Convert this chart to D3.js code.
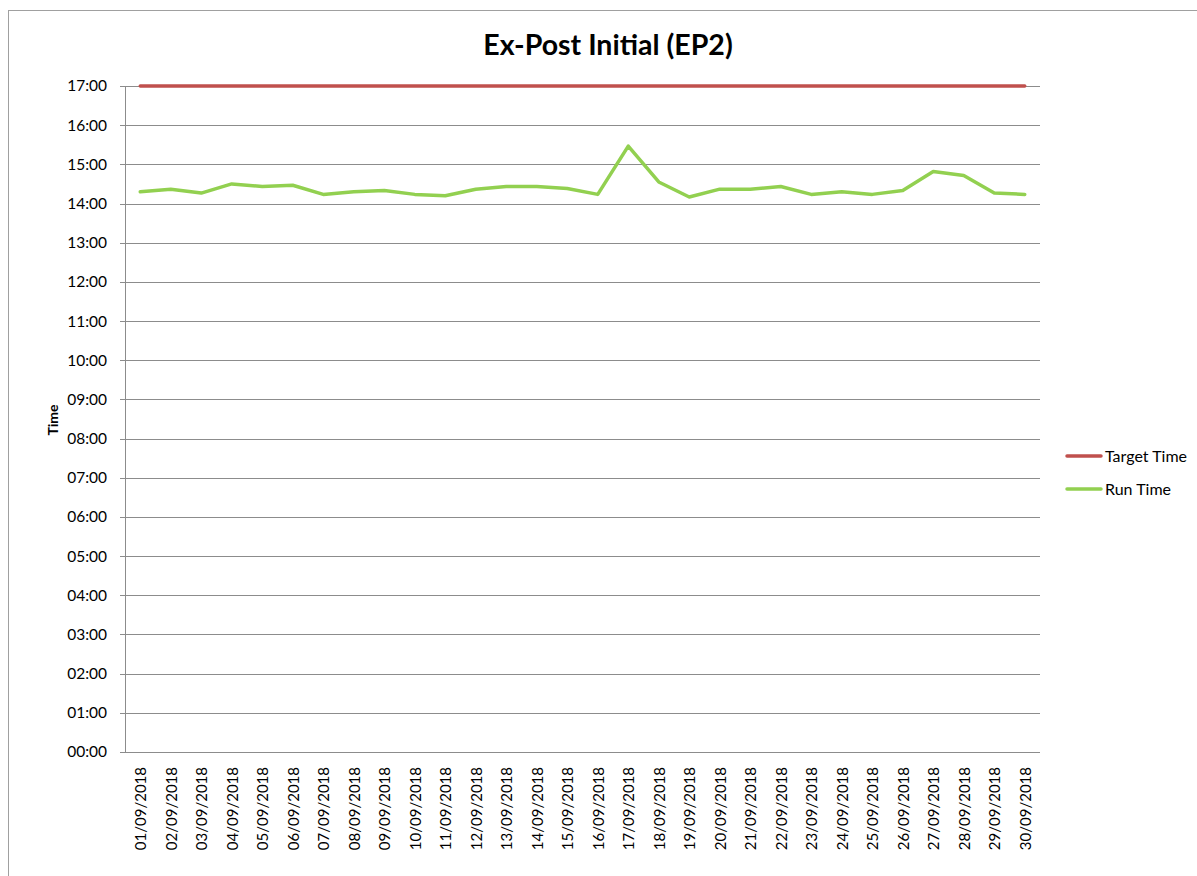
<!DOCTYPE html>
<html>
<head>
<meta charset="utf-8">
<script src="https://cdn.jsdelivr.net/npm/d3@7"></script>
<style>
  body { margin: 0; background: #fff; }
  svg { display: block; font-family: Lato, "Open Sans", sans-serif; }
</style>
</head>
<body>
<svg width="1197" height="876"></svg>
<script>
var days = ["01/09/2018","02/09/2018","03/09/2018","04/09/2018","05/09/2018","06/09/2018",
  "07/09/2018","08/09/2018","09/09/2018","10/09/2018","11/09/2018","12/09/2018",
  "13/09/2018","14/09/2018","15/09/2018","16/09/2018","17/09/2018","18/09/2018",
  "19/09/2018","20/09/2018","21/09/2018","22/09/2018","23/09/2018","24/09/2018",
  "25/09/2018","26/09/2018","27/09/2018","28/09/2018","29/09/2018","30/09/2018"];

var targetTime = ["17:00","17:00","17:00","17:00","17:00","17:00","17:00","17:00","17:00","17:00",
  "17:00","17:00","17:00","17:00","17:00","17:00","17:00","17:00","17:00","17:00",
  "17:00","17:00","17:00","17:00","17:00","17:00","17:00","17:00","17:00","17:00"];

var runTime = ["14:18","14:22","14:16","14:30","14:26","14:28","14:14","14:18","14:20","14:14",
  "14:12","14:22","14:26","14:26","14:23","14:14","15:28","14:33","14:10","14:22",
  "14:22","14:26","14:14","14:18","14:14","14:20","14:49","14:43","14:16","14:14"];

var yTicks = ["00:00","01:00","02:00","03:00","04:00","05:00","06:00","07:00","08:00",
  "09:00","10:00","11:00","12:00","13:00","14:00","15:00","16:00","17:00"];

function toHours(s) {
  var p = s.split(":");
  return +p[0] + (+p[1]) / 60;
}

var svg = d3.select("svg"),
    margin = {top: 86, left: 125},
    width = 915,
    height = 666;

// chart frame
svg.append("rect").attr("x", 8.5).attr("y", 10.5).attr("width", 1300).attr("height", 1000)
  .attr("fill", "none").attr("stroke", "#a0a0a0").attr("stroke-width", 1);

svg.append("text").attr("x", 608).attr("y", 55).attr("text-anchor", "middle")
  .attr("font-size", 28.5).attr("font-weight", "bold").attr("fill", "#000")
  .text("Ex-Post Initial (EP2)");

var g = svg.append("g").attr("transform", "translate(" + margin.left + "," + margin.top + ")");

var x = d3.scalePoint().domain(days).range([0, width]).padding(0.5);
var y = d3.scaleLinear().domain([0, 17]).range([height, 0]);

// gridlines
g.append("g").attr("class", "grid")
  .call(d3.axisLeft(y).tickValues(yTicks.map(toHours)).tickSize(-width).tickFormat(""))
  .call(function(s) {
    s.select(".domain").remove();
    s.selectAll("line").attr("stroke", "#8c8c8c").attr("shape-rendering", "crispEdges");
  });

// y axis
g.append("g")
  .call(d3.axisLeft(y).tickValues(yTicks.map(toHours)).tickSize(5).tickPadding(13)
    .tickFormat(function(d, i) { return yTicks[i]; }))
  .call(function(s) {
    s.select(".domain").attr("stroke", "#8c8c8c").attr("d", "M0,0V" + height).attr("shape-rendering", "crispEdges");
    s.selectAll("line").attr("stroke", "#8c8c8c").attr("shape-rendering", "crispEdges");
    s.selectAll("text").attr("font-size", 15.5).attr("fill", "#000").attr("font-family", "Lato, sans-serif");
  });

// x axis
g.append("g").attr("transform", "translate(0," + height + ")")
  .call(d3.axisBottom(x).tickSize(0).tickPadding(0))
  .call(function(s) {
    s.select(".domain").attr("stroke", "#8c8c8c").attr("d", "M0,0H" + width).attr("shape-rendering", "crispEdges");
    s.selectAll("text").attr("font-size", 15).attr("fill", "#000").attr("font-family", "Lato, sans-serif")
      .attr("transform", "rotate(-90)").attr("text-anchor", "end")
      .attr("x", -15).attr("y", 0).attr("dy", "0.35em");
  });

svg.append("text").attr("transform", "translate(58,420) rotate(-90)")
  .attr("text-anchor", "middle").attr("font-size", 14).attr("font-weight", "bold").text("Time");

var line = d3.line()
  .x(function(d, i) { return x(days[i]); })
  .y(function(d) { return y(toHours(d)); });

var series = [
  {name: "Target Time", values: targetTime, color: "#c0504d"},
  {name: "Run Time", values: runTime, color: "#92d050"}
];

series.forEach(function(s) {
  g.append("path").datum(s.values).attr("fill", "none").attr("stroke", s.color)
    .attr("stroke-width", 3.5).attr("stroke-linejoin", "round").attr("stroke-linecap", "round")
    .attr("d", line);
});

// legend
var legend = svg.append("g").attr("transform", "translate(1067,456)");
series.forEach(function(s, i) {
  var row = legend.append("g").attr("transform", "translate(0," + (i * 33) + ")");
  row.append("line").attr("x1", 0).attr("x2", 34).attr("stroke", s.color)
    .attr("stroke-width", 3.5).attr("stroke-linecap", "round");
  row.append("text").attr("x", 38).attr("dy", "0.35em").attr("font-size", 16).text(s.name);
});
</script>
</body>
</html>
